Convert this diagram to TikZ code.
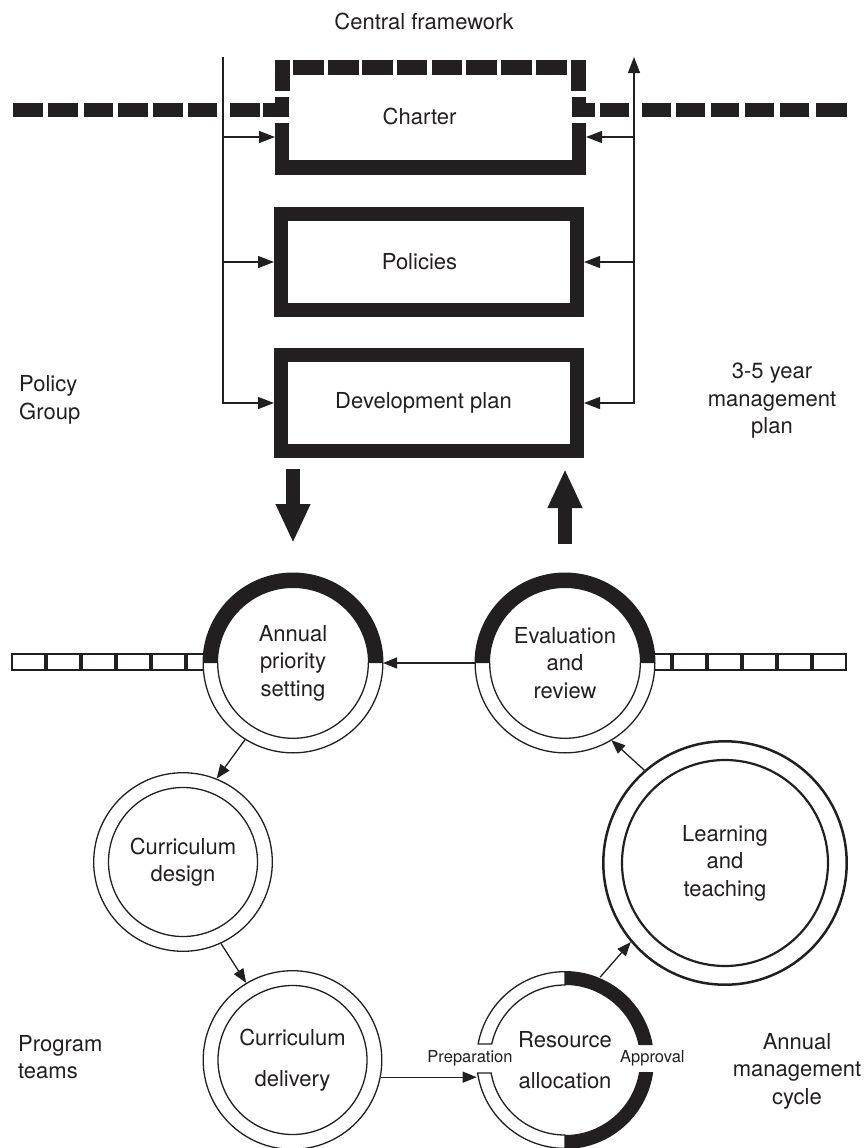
\documentclass[tikz,border=0pt]{standalone}
\usepackage{fontspec}
\setmainfont{TeX Gyre Heros}
\usetikzlibrary{arrows.meta,calc}
\definecolor{ink}{HTML}{231F20}

\begin{document}
\begin{tikzpicture}[x=1pt,y=1pt,
  font=\fontsize{22}{27.5}\selectfont, text=ink,
  txt/.style={align=center, inner sep=0pt},
  heavybox/.style={draw=ink, line width=14pt, minimum width=296pt, minimum height=96pt, inner sep=0pt},
  hair/.style={draw=ink, line width=1.3pt},
  arr/.style={draw=ink, line width=1.3pt, -{Triangle[length=16pt,width=12pt]}},
  carr/.style={draw=ink, line width=1.3pt, -{Triangle[length=14pt,width=11pt]}},
  big/.style={draw=ink, line width=14pt, -{Triangle[length=39pt,width=32pt]}},
  cell/.style={draw=ink, line width=1.2pt},
  hub/.style={circle, minimum size=180pt, inner sep=0pt, outer sep=0pt, align=center},
  small/.style={font=\fontsize{16.5}{20}\selectfont, inner sep=0pt},
  caption/.style={label={[inner sep=0pt, text=ink, xshift=#1]center:}},
]
\fill[white] (0,0) rectangle (863,-1148);
\useasboundingbox (0,0) rectangle (863,-1148);

% ---------- central framework: charter and the heavy dashed band ----------
\node[txt] (cf) at (424,-21) {Central framework};

\foreach \a/\b in {13/43,48/78,84/113,118/148,153/183,188/217,230/260}
  \fill[ink] (\a,-103) rectangle (\b,-117);
\foreach \a/\b in {600/629,642/671,676/705,711/739,745/774,780/809,816/847}
  \fill[ink] (\a,-103) rectangle (\b,-117);
\foreach \a/\b in {293/324,328/359,362/393,397/427,432/462,466/497,501/532,536/567}
  \fill[ink] (\a,-60) rectangle (\b,-75);
% corners, notches and the solid lower part of the charter frame
\fill[ink] (275,-60) rectangle (290,-91);
\fill[ink] (571,-60) rectangle (586,-91);
\fill[ink] (275,-97) rectangle (289,-117);
\fill[ink] (263,-103) rectangle (275,-117);
\fill[ink] (572,-97) rectangle (586,-117);
\fill[ink] (586,-103) rectangle (595,-117);
\fill[ink] (275,-123) rectangle (289,-175);
\fill[ink] (572,-123) rectangle (586,-175);
\fill[ink] (275,-160) rectangle (586,-175);

\node[minimum width=311pt, minimum height=115pt, inner sep=0pt, outer sep=0pt,
      label={[inner sep=0pt, xshift=-11pt, yshift=1pt]center:Charter}] (charter) at (430.5,-117.5) {};
\node[heavybox, label={[inner sep=0pt, xshift=-9.5pt]center:Policies}] (pol) at (429,-262) {};
\node[heavybox, label={[inner sep=0pt, xshift=-5.5pt]center:Development plan}] (dev) at (429,-403) {};

\coordinate (chl) at ($(charter.west)+(0,-19.5)$);
\coordinate (chr) at ($(charter.east)+(0,-19.5)$);

% policy group feed (left) and management plan feedback (right)
\coordinate (ltop) at (223,-57);
\coordinate (rtop) at (634,-57);
\coordinate (rbot) at (rtop |- dev.east);
\draw[arr] (ltop) |- (dev.west);
\draw[arr] (ltop |- pol.west) -- (pol.west);
\draw[arr] (ltop |- chl) -- (chl);
\draw[arr, line cap=rect] (rbot) -- (rtop);
\draw[arr] (rbot) -- (dev.east);
\draw[arr] (rtop |- pol.east) -- (pol.east);
\draw[arr] (rtop |- chr) -- (chr);

\node[txt, align=left, anchor=west] (pg) at (19,-400) {Policy\\Group};
\node[txt] (mp) at (772,-401) {3-5 year\\management\\plan};

% ---------- annual management cycle ----------
\node[hub] (aps) at (293,-663) {Annual\\priority\\setting};
\node[hub] (evr) at (565,-663) {Evaluation\\and\\review};
\node[hub] (cdes) at (183,-862) {Curriculum\\design};
\node[hub] (cdel) at (292.5,-1060) {Curriculum\\[14pt]delivery};
\node[hub] (ra) at (565,-1060) {Resource\\[14pt]allocation};
\node[hub, minimum size=246pt] (lt) at (725,-863) {Learning\\and\\teaching};

% open-cell bands at the priority / review level
\foreach \a in {12,47,82,117,152}
  \draw[cell] (\a,-654) rectangle ++(33,-16);
\draw[cell] (203.4,-654) -- (187,-654) -- (187,-670) -- (203.4,-670);
\draw[cell] (654.6,-654) -- (671,-654) -- (671,-670) -- (654.6,-670);
\foreach \a in {673,708,743,778,813}
  \draw[cell] (\a,-654) rectangle ++(33,-16);

% half-black rings
\foreach \c in {aps,evr}{
  \fill[ink] ($(\c.center)+(90.5,0)$) arc[start angle=0,end angle=180,radius=90.5]
     -- ++(15.5,0) arc[start angle=180,end angle=0,radius=75] -- cycle;
  \draw[hair] ($(\c.center)+(89.85,0)$) arc[start angle=0,end angle=-180,radius=89.85];
  \draw[hair] ($(\c.center)+(75.3,0)$) arc[start angle=0,end angle=-180,radius=75.3];
}

% plain double rings
\foreach \c in {cdes,cdel}{
  \draw[hair] (\c.center) circle[radius=89.3];
  \draw[hair] (\c.center) circle[radius=74.5];
}
\draw[ink, line width=2.5pt] (lt.center) circle[radius=121.7];
\draw[ink, line width=2.2pt] (lt.center) circle[radius=103];

% resource ring: open preparation side, black approval side
\begin{scope}[shift={(ra.center)}]
  \fill[ink] (90:89) arc[start angle=90,end angle=9.7,radius=89]
     -- (11.5:75) arc[start angle=11.5,end angle=90,radius=75] -- cycle;
  \fill[ink] (-7.75:89) arc[start angle=-7.75,end angle=-90,radius=89]
     -- (-90:75) arc[start angle=-90,end angle=-9.2,radius=75] -- cycle;
  \draw[hair] (90:88.35) arc[start angle=90,end angle=169.6,radius=88.35]
     -- (167.7:75) arc[start angle=167.7,end angle=90,radius=75] -- cycle;
  \draw[hair] (188.4:88.35) arc[start angle=188.4,end angle=270,radius=88.35]
     -- (270:75) arc[start angle=270,end angle=190,radius=75] -- cycle;
\end{scope}
\node[small] (prep) at (470,-1058) {Preparation};
\node[small, anchor=west] (appr) at (620,-1058) {Approval};

% heavy links between the plan and the cycle
\draw[big, shorten <=11pt, shorten >=30pt] (dev.south -| aps.north) -- (aps.north);
\draw[big, shorten <=29pt, shorten >=11pt] (evr.north) -- (evr.north |- dev.south);

% cycle connectors
\draw[carr] (evr.west) -- (aps.east);
\draw[carr] (aps.238.8) -- (cdes.68.7);
\draw[carr] (cdes.295.7) -- (cdel.121);
\draw[carr] (cdel.-11.5) -- (ra.191.7);
\draw[carr] (ra.67.7) -- (lt.220);
\draw[carr] (lt.131) -- (evr.301.3);

\node[txt, align=left, anchor=west] (pt) at (18,-1057) {Program\\teams};
\node[txt] (amc) at (797,-1071) {Annual\\management\\cycle};
\end{tikzpicture}
\end{document}
